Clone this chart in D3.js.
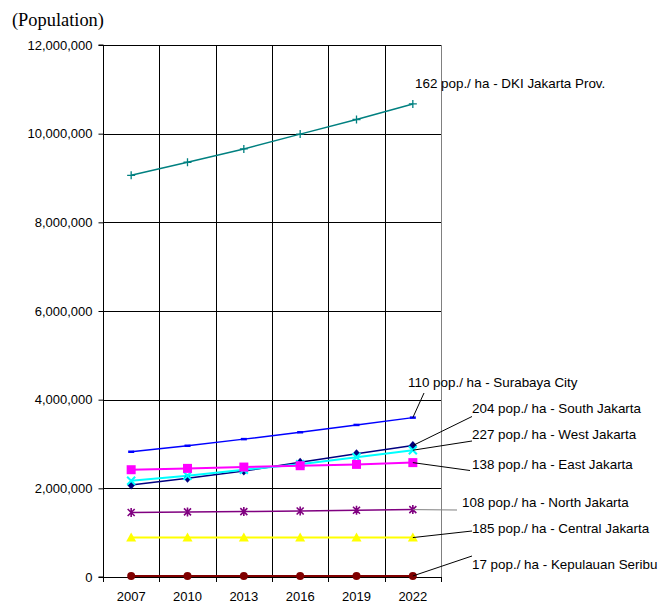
<!DOCTYPE html>
<html>
<head>
<meta charset="utf-8">
<script src="https://cdn.jsdelivr.net/npm/d3@7"></script>
<style>
  html, body { margin: 0; padding: 0; background: #fff; }
  svg { display: block; }
</style>
</head>
<body>
<svg id="chart" width="659" height="603"></svg>
<script>
// Population by year, 2007-2022
const years = ["2007", "2010", "2013", "2016", "2019", "2022"];
const yTicks = [0, 2000000, 4000000, 6000000, 8000000, 10000000, 12000000];

const dkiJakarta     = [9060000, 9355000, 9655000, 9990000, 10320000, 10670000];
const surabaya       = [2825000, 2960000, 3110000, 3265000, 3430000, 3595000];
const southJakarta   = [2075000, 2225000, 2390000, 2590000, 2780000, 2965000];
const westJakarta    = [2170000, 2285000, 2420000, 2545000, 2700000, 2860000];
const eastJakarta    = [2420000, 2450000, 2480000, 2510000, 2540000, 2580000];
const northJakarta   = [1455000, 1468000, 1476000, 1490000, 1505000, 1520000];
const centralJakarta = [890000, 891000, 891000, 890000, 889000, 889000];
const kepSeribu      = [21000, 21500, 22000, 22500, 23000, 23500];

// Density (pop./ha) shown in each series label
const seriesNames = ["DKI Jakarta Prov.", "Surabaya City", "South Jakarta", "West Jakarta",
                     "East Jakarta", "North Jakarta", "Central Jakarta", "Kepulauan Seribu"];
const densities = [162, 110, 204, 227, 138, 108, 185, 17];

const seriesValues = [dkiJakarta, surabaya, southJakarta, westJakarta,
                      eastJakarta, northJakarta, centralJakarta, kepSeribu];

// Drawing styles per series
const styles = [
  { color: "#008080", width: 1.5, marker: "plus" },
  { color: "#0000ff", width: 1.5, marker: "dash" },
  { color: "#000080", width: 1.5, marker: "diamond" },
  { color: "#00ffff", width: 2,   marker: "cross" },
  { color: "#ff00ff", width: 2,   marker: "square" },
  { color: "#800080", width: 1.5, marker: "star" },
  { color: "#ffff00", width: 2,   marker: "triangle" },
  { color: "#800000", width: 2,   marker: "circle" }
];

// Label placement: text anchor and start of the leader line (pixels)
const labelLayout = [
  { tx: 415, ty: 88,    lx: null, ly: null, lineColor: "#000" },
  { tx: 408, ty: 386.5, lx: 424,  ly: 393,  lineColor: "#000" },
  { tx: 472, ty: 412.5, lx: 472,  ly: 416.5, lineColor: "#000" },
  { tx: 472, ty: 438.5, lx: 472,  ly: 441,  lineColor: "#000" },
  { tx: 472, ty: 469,   lx: 470,  ly: 470.5, lineColor: "#000" },
  { tx: 462, ty: 506.5, lx: 457,  ly: 510,  lineColor: "#808080" },
  { tx: 472, ty: 533,   lx: 472,  ly: 531,  lineColor: "#000" },
  { tx: 472, ty: 569,   lx: 472,  ly: 556,  lineColor: "#000" }
];

const svg = d3.select("#chart");
const plotLeft = 103, plotRight = 441, plotTop = 45, plotBottom = 577;

const x = d3.scaleBand().domain(years).range([plotLeft, plotRight]);
const y = d3.scaleLinear().domain([0, 12000000]).range([plotBottom, plotTop]);
const cx = d => x(d) + x.bandwidth() / 2;

const font = "Arial, 'Liberation Sans', sans-serif";

// Axis title
svg.append("text")
  .attr("x", 12).attr("y", 26)
  .attr("font-family", "'Times New Roman', 'Liberation Serif', serif")
  .attr("font-size", 18.4)
  .text("(Population)");

// Horizontal gridlines
svg.append("g")
  .selectAll("line")
  .data(yTicks.filter(v => v > 0))
  .join("line")
  .attr("x1", plotLeft).attr("x2", plotRight)
  .attr("y1", d => Math.round(y(d)) + 0.5).attr("y2", d => Math.round(y(d)) + 0.5)
  .attr("stroke", "#000").attr("stroke-width", 1);

// Vertical gridlines at category boundaries, with ticks below the axis
const bounds = [plotLeft].concat(years.map(yr => x(yr) + x.bandwidth()));
svg.append("g")
  .selectAll("line")
  .data(bounds.filter(b => b > plotLeft))
  .join("line")
  .attr("x1", d => Math.round(d) + 0.5).attr("x2", d => Math.round(d) + 0.5)
  .attr("y1", plotTop).attr("y2", plotBottom)
  .attr("stroke", d => Math.round(d) === Math.round(plotRight) ? "#808080" : "#000")
  .attr("stroke-width", 1);

svg.append("g")
  .selectAll("line")
  .data(bounds)
  .join("line")
  .attr("x1", d => Math.round(d) + 0.5).attr("x2", d => Math.round(d) + 0.5)
  .attr("y1", plotBottom).attr("y2", plotBottom + 5)
  .attr("stroke", "#000");

// Y axis
const yAxis = svg.append("g")
  .attr("transform", `translate(${plotLeft + 0.5},0)`)
  .call(d3.axisLeft(y).tickValues(yTicks).tickSize(5).tickPadding(6)
        .tickFormat(d3.format(",")));
yAxis.select(".domain").attr("d", `M-5,${y(12000000)}H0V${y(0)}H-5`).attr("stroke", "#000");
yAxis.selectAll("line").attr("stroke", "#000");
yAxis.selectAll("text").attr("font-family", font).attr("font-size", 13).attr("fill", "#000");

// X axis baseline and labels
svg.append("line")
  .attr("x1", plotLeft).attr("x2", plotRight)
  .attr("y1", Math.round(y(0)) + 0.5).attr("y2", Math.round(y(0)) + 0.5)
  .attr("stroke", "#000");

const xAxis = svg.append("g")
  .attr("transform", `translate(0,${plotBottom})`)
  .call(d3.axisBottom(x).tickSize(0).tickPadding(15));
xAxis.select(".domain").remove();
xAxis.selectAll("text").attr("font-family", font).attr("font-size", 13).attr("fill", "#000");

// Series lines
const line = d3.line().x((d, i) => cx(years[i])).y(d => y(d));

seriesValues.forEach((vals, s) => {
  const st = styles[s];
  svg.append("path")
    .datum(vals)
    .attr("d", line)
    .attr("fill", "none")
    .attr("stroke", st.color)
    .attr("stroke-width", st.width);
});

// Markers
function drawMarker(g, type, color) {
  switch (type) {
    case "plus":
      g.append("path").attr("d", "M-4,0H4M0,-4V4").attr("stroke", color).attr("stroke-width", 1.3);
      break;
    case "dash":
      g.append("path").attr("d", "M-3,0H3").attr("stroke", color).attr("stroke-width", 2.5);
      break;
    case "diamond":
      g.append("path").attr("d", "M0,-4.5L4,0L0,4.5L-4,0Z").attr("fill", color);
      break;
    case "cross":
      g.append("path").attr("d", "M-4,-4L4,4M-4,4L4,-4").attr("stroke", color).attr("stroke-width", 2);
      break;
    case "square":
      g.append("rect").attr("x", -4.5).attr("y", -4.5).attr("width", 9).attr("height", 9).attr("fill", color);
      break;
    case "star":
      g.append("path").attr("d", "M-3.5,-3.5L3.5,3.5M-3.5,3.5L3.5,-3.5M0,-4.5V4.5")
        .attr("stroke", color).attr("stroke-width", 1.6);
      break;
    case "triangle":
      g.append("path").attr("d", "M0,-5L5,4H-5Z").attr("fill", color);
      break;
    case "circle":
      g.append("circle").attr("r", 4).attr("fill", color);
      break;
  }
}

seriesValues.forEach((vals, s) => {
  const st = styles[s];
  vals.forEach((v, i) => {
    const g = svg.append("g").attr("transform", `translate(${cx(years[i])},${y(v)})`);
    drawMarker(g, st.marker, st.color);
  });
});

// Leader lines and series labels
seriesValues.forEach((vals, s) => {
  const lay = labelLayout[s];
  const last = vals.length - 1;
  if (lay.lx !== null) {
    svg.append("line")
      .attr("x1", lay.lx).attr("y1", lay.ly)
      .attr("x2", cx(years[last])).attr("y2", y(vals[last]))
      .attr("stroke", lay.lineColor).attr("stroke-width", 1);
  }
  svg.append("text")
    .attr("x", lay.tx).attr("y", lay.ty)
    .attr("font-family", font).attr("font-size", 13.4)
    .attr("fill", "#000")
    .text(`${densities[s]} pop./ ha - ${seriesNames[s]}`);
});
</script>
</body>
</html>
